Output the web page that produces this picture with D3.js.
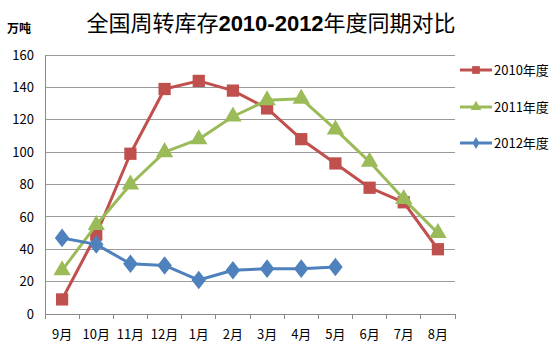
<!DOCTYPE html>
<html>
<head>
<meta charset="utf-8">
<script src="https://cdn.jsdelivr.net/npm/d3@7"></script>
<style>
  html, body { margin: 0; padding: 0; background: #fff; }
  svg { display: block; }
  text { font-family: "Noto Sans CJK SC", "Liberation Sans", sans-serif; fill: #000; }
</style>
</head>
<body>
<svg id="chart" width="559" height="349"></svg>
<script>
// Months of the season, September through August
const months = ["9月", "10月", "11月", "12月", "1月", "2月", "3月", "4月", "5月", "6月", "7月", "8月"];
// Turnover inventory, 10k tonnes
const stock2010 = [9, 49, 99, 139, 144, 138, 127, 108, 93, 78, 69, 40];
const stock2011 = [27, 55, 80, 100, 108, 122, 132, 133, 114, 94, 71, 50];
const stock2012 = [47, 43, 31, 30, 21, 27, 28, 28, 29];
const seriesNames = ["2010年度", "2011年度", "2012年度"];
const yTicks = [0, 20, 40, 60, 80, 100, 120, 140, 160];

const series = [
  { name: seriesNames[0], values: stock2010, color: "#C0504D", shape: "square" },
  { name: seriesNames[1], values: stock2011, color: "#9BBB59", shape: "triangle" },
  { name: seriesNames[2], values: stock2012, color: "#4F81BD", shape: "diamond" }
];

const svg = d3.select("#chart");
const plotLeft = 45, plotRight = 455, plotTop = 55, plotBottom = 314;

const x = d3.scaleBand().domain(months).range([plotLeft, plotRight]);
const y = d3.scaleLinear().domain([0, 160]).range([plotBottom, plotTop]);

// Horizontal gridlines
svg.append("g")
  .selectAll("line")
  .data(yTicks.filter(d => d > 0))
  .join("line")
  .attr("x1", plotLeft).attr("x2", plotRight)
  .attr("y1", d => y(d)).attr("y2", d => y(d))
  .attr("stroke", "#9a9a9a").attr("stroke-width", 1)
  .attr("shape-rendering", "crispEdges");

// Y axis
const yAxis = svg.append("g")
  .attr("transform", `translate(${plotLeft},0)`)
  .call(d3.axisLeft(y).tickValues(yTicks).tickSize(0).tickPadding(11));
yAxis.select(".domain").attr("stroke", "#8a8a8a").attr("shape-rendering", "crispEdges");
yAxis.selectAll("text").attr("font-family", "Liberation Sans, sans-serif").attr("font-size", 13).attr("fill", "#000");

// X axis with tick marks between categories
const xAxis = svg.append("g").attr("transform", `translate(0,${plotBottom})`);
xAxis.append("line")
  .attr("x1", plotLeft).attr("x2", plotRight)
  .attr("stroke", "#8a8a8a").attr("shape-rendering", "crispEdges");
xAxis.selectAll("line.tick")
  .data(d3.range(months.length + 1))
  .join("line")
  .attr("class", "tick")
  .attr("x1", i => plotLeft + i * x.step()).attr("x2", i => plotLeft + i * x.step())
  .attr("y1", 0).attr("y2", 5)
  .attr("stroke", "#8a8a8a").attr("shape-rendering", "crispEdges");
xAxis.selectAll("text")
  .data(months)
  .join("text")
  .attr("x", d => x(d) + x.bandwidth() / 2)
  .attr("y", 25)
  .attr("text-anchor", "middle")
  .attr("font-size", 13)
  .text(d => d);

const cx = (d, i) => x(months[i]) + x.bandwidth() / 2;

const symbolFor = shape => {
  if (shape === "square") return d3.symbol().type(d3.symbolSquare).size(150);
  if (shape === "triangle") return d3.symbol().type(d3.symbolTriangle).size(130);
  return d3.symbol().type(d3.symbolDiamond).size(100);
};

const line = d3.line().x(cx).y(d => y(d));

series.forEach(s => {
  const g = svg.append("g");
  g.append("path")
    .attr("d", line(s.values))
    .attr("fill", "none")
    .attr("stroke", s.color)
    .attr("stroke-width", 3)
    .attr("stroke-linejoin", "round");
  g.selectAll("path.m")
    .data(s.values)
    .join("path")
    .attr("class", "m")
    .attr("transform", (d, i) => `translate(${cx(d, i)},${y(d)})` + (s.shape === "diamond" ? " scale(1.35,1)" : ""))
    .attr("d", symbolFor(s.shape)())
    .attr("fill", s.color);
});

// Legend
const legend = svg.append("g");
series.forEach((s, i) => {
  const ly = [70, 107, 143][i];
  legend.append("line")
    .attr("x1", 460).attr("x2", 492).attr("y1", ly).attr("y2", ly)
    .attr("stroke", s.color).attr("stroke-width", 3);
  const sym = s.shape === "square" ? d3.symbol().type(d3.symbolSquare).size(60)
    : s.shape === "triangle" ? d3.symbol().type(d3.symbolTriangle).size(50)
    : d3.symbol().type(d3.symbolDiamond).size(40);
  legend.append("path")
    .attr("transform", `translate(476,${ly})`)
    .attr("d", sym())
    .attr("fill", s.color);
  legend.append("text")
    .attr("x", 494).attr("y", ly + 5)
    .attr("font-size", 13)
    .text(s.name);
});

// Title and unit label
const title = svg.append("text")
  .attr("x", 271).attr("y", 31)
  .attr("text-anchor", "middle")
  .attr("font-size", 22);
title.append("tspan").text("全国周转库存");
title.append("tspan").attr("font-weight", "bold").attr("font-family", "Liberation Sans, sans-serif").text("2010-2012");
title.append("tspan").text("年度同期对比");

svg.append("text")
  .attr("x", 7).attr("y", 33)
  .attr("font-size", 12)
  .attr("font-weight", "bold")
  .text("万吨");
</script>
</body>
</html>
